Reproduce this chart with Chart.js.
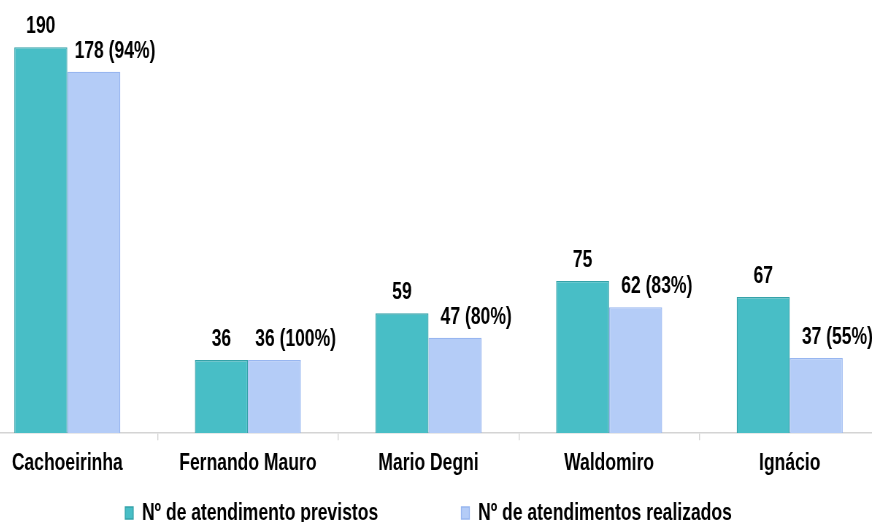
<!DOCTYPE html>
<html>
<head>
<meta charset="utf-8">
<script src="https://cdn.jsdelivr.net/npm/chart.js@4.4.1/dist/chart.umd.min.js"></script>
<style>
  html, body { margin: 0; padding: 0; background: #fff; overflow: hidden; }
  #wrap { position: relative; width: 872px; height: 522px; overflow: hidden; }
  #atendChart { position: absolute; left: -23px; top: 0; }
</style>
</head>
<body>
<div id="wrap">
  <!-- drawn wide and squeezed horizontally so the bold text reads as a narrow face -->
  <canvas id="atendChart" width="1237" height="535" style="width:903px;height:535px"></canvas>
</div>
<script>
const unidades = ['Cachoeirinha', 'Fernando Mauro', 'Mario Degni', 'Waldomiro', 'Ignácio'];
const previstos = [190, 36, 59, 75, 67];
const realizados = [178, 36, 47, 62, 37];
const serieNomes = ['Nº de atendimento previstos', 'Nº de atendimentos realizados'];

const FONT = "'Liberation Sans', Arial, sans-serif";

// value labels over each bar; the second series also shows % of the planned value
const valueLabels = {
    id: 'valueLabels',
    afterDatasetsDraw(chart) {
        const ctx = chart.ctx;
        ctx.save();
        ctx.font = 'bold 24px ' + FONT;
        ctx.fillStyle = '#000';
        ctx.textAlign = 'center';
        ctx.textBaseline = 'alphabetic';
        chart.data.datasets.forEach(function (ds, di) {
            const meta = chart.getDatasetMeta(di);
            meta.data.forEach(function (bar, i) {
                let txt = String(ds.data[i]);
                let x = bar.x;
                if (di === 1) {
                    const pct = Math.round(ds.data[i] / previstos[i] * 100);
                    txt += ' (' + pct + '%)';
                    x += 29;
                }
                ctx.fillText(txt, x, bar.y - 14);
            });
        });
        ctx.restore();
    }
};

const ctx = document.getElementById('atendChart').getContext('2d');
const chart = new Chart(ctx, {
    type: 'bar',
    data: {
        labels: unidades,
        datasets: [{
            label: serieNomes[0],
            data: previstos,
            backgroundColor: '#48bec6',
            borderColor: '#35a2a9',
            borderWidth: 1.3
        }, {
            label: serieNomes[1],
            data: realizados,
            backgroundColor: '#b4ccf7',
            borderColor: '#98b6f0',
            borderWidth: 1.3
        }]
    },
    options: {
        responsive: false,
        animation: false,
        layout: { padding: { top: 27, left: 0, right: 0, bottom: 0 } },
        datasets: {
            bar: { barPercentage: 1, categoryPercentage: 0.587 }
        },
        scales: {
            x: {
                grid: {
                    offset: true,
                    drawOnChartArea: false,
                    drawTicks: true,
                    tickLength: 7,
                    lineWidth: 1.4,
                    color: '#d4d4d4'
                },
                border: { display: true, color: '#d4d4d4', width: 1.5 },
                ticks: {
                    color: '#000',
                    padding: 9,
                    font: { family: FONT, size: 24, weight: 'bold' }
                }
            },
            y: {
                display: false,
                min: 0,
                max: 200
            }
        },
        plugins: {
            tooltip: { enabled: false },
            legend: {
                position: 'bottom',
                labels: {
                    color: '#000',
                    boxWidth: 11,
                    boxHeight: 12,
                    padding: 14,
                    font: { family: FONT, size: 24, weight: 'bold' },
                    generateLabels(chart) {
                        const items = Chart.defaults.plugins.legend.labels.generateLabels(chart);
                        // wider gap after the first entry
                        items[0].text += '\u00a0'.repeat(15);
                        return items;
                    }
                }
            }
        }
    },
    plugins: [valueLabels]
});
</script>
</body>
</html>
